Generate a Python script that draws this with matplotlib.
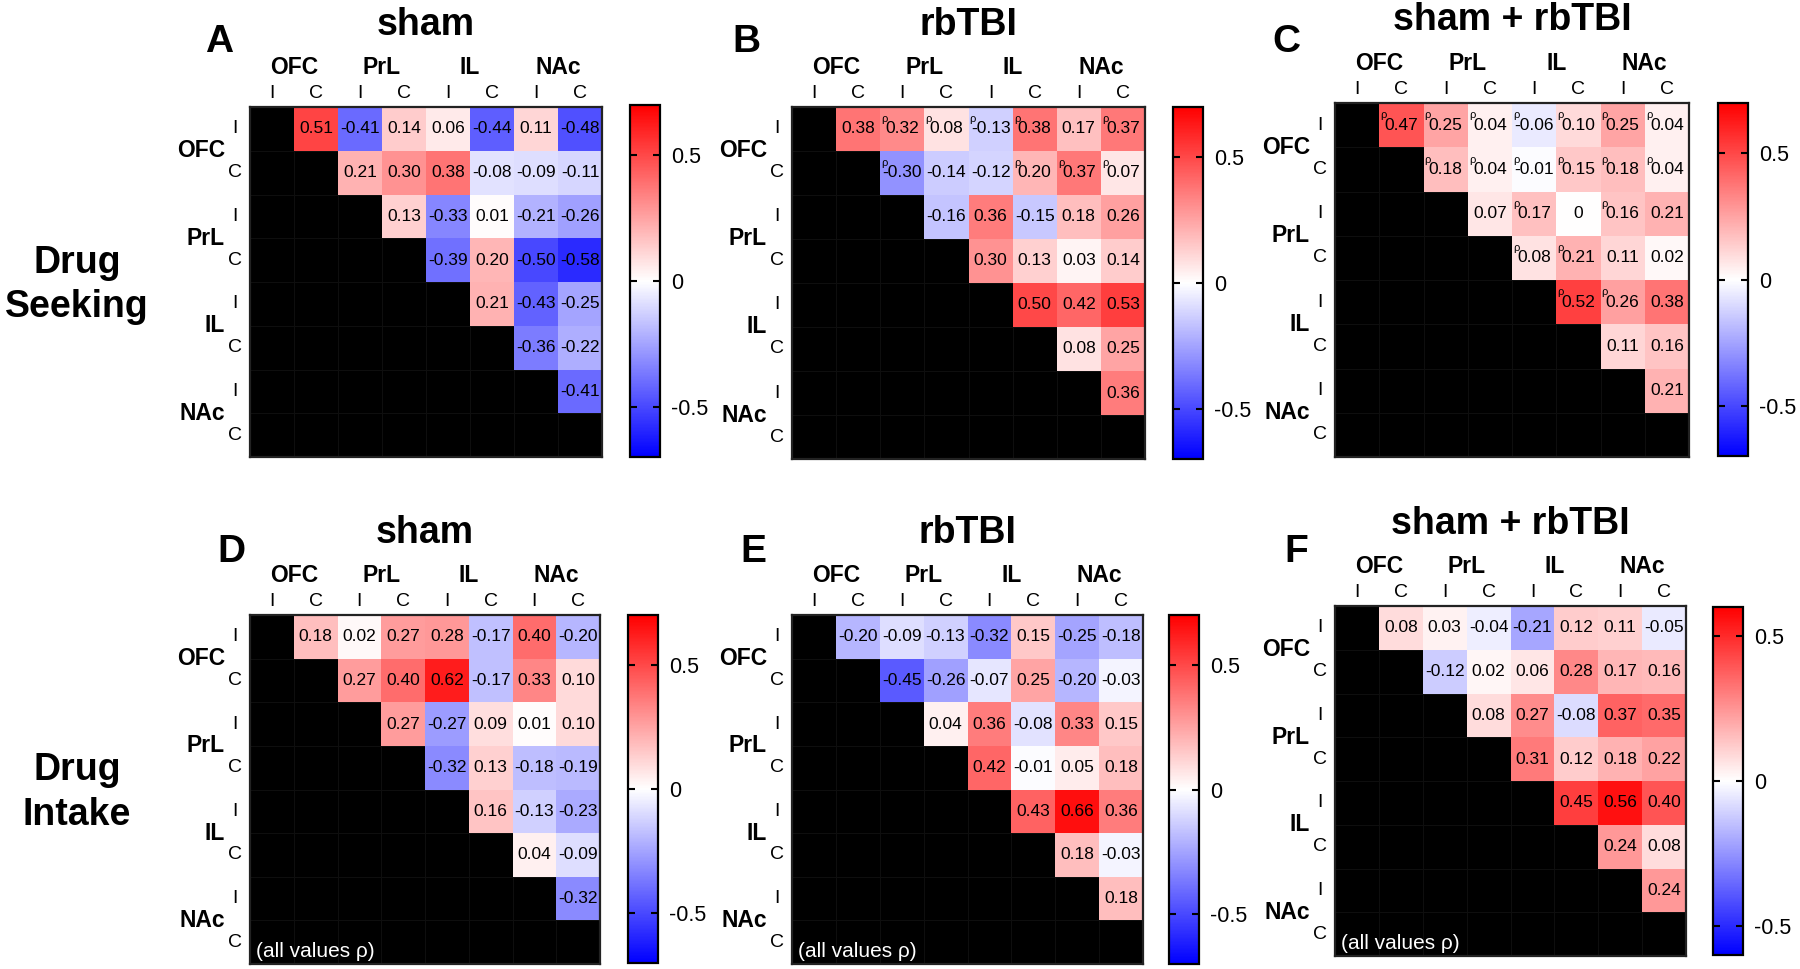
import numpy as np
import matplotlib
matplotlib.use('Agg')
import matplotlib.pyplot as plt
from matplotlib.colors import ListedColormap

plt.rcParams['font.family'] = ['Liberation Sans', 'DejaVu Sans']

regions = ['OFC', 'PrL', 'IL', 'NAc']
sides = ['I', 'C']

# upper triangle only: row i holds the columns i+1 .. 7
sham_seeking = [
    [0.51, -0.41, 0.14, 0.06, -0.44, 0.11, -0.48],
    [0.21, 0.30, 0.38, -0.08, -0.09, -0.11],
    [0.13, -0.33, 0.01, -0.21, -0.26],
    [-0.39, 0.20, -0.50, -0.58],
    [0.21, -0.43, -0.25],
    [-0.36, -0.22],
    [-0.41],
]
tbi_seeking = [
    [0.38, 0.32, 0.08, -0.13, 0.38, 0.17, 0.37],
    [-0.30, -0.14, -0.12, 0.20, 0.37, 0.07],
    [-0.16, 0.36, -0.15, 0.18, 0.26],
    [0.30, 0.13, 0.03, 0.14],
    [0.50, 0.42, 0.53],
    [0.08, 0.25],
    [0.36],
]
all_seeking = [
    [0.47, 0.25, 0.04, -0.06, 0.10, 0.25, 0.04],
    [0.18, 0.04, -0.01, 0.15, 0.18, 0.04],
    [0.07, 0.17, 0.0, 0.16, 0.21],
    [0.08, 0.21, 0.11, 0.02],
    [0.52, 0.26, 0.38],
    [0.11, 0.16],
    [0.21],
]
sham_intake = [
    [0.18, 0.02, 0.27, 0.28, -0.17, 0.40, -0.20],
    [0.27, 0.40, 0.62, -0.17, 0.33, 0.10],
    [0.27, -0.27, 0.09, 0.01, 0.10],
    [-0.32, 0.13, -0.18, -0.19],
    [0.16, -0.13, -0.23],
    [0.04, -0.09],
    [-0.32],
]
tbi_intake = [
    [-0.20, -0.09, -0.13, -0.32, 0.15, -0.25, -0.18],
    [-0.45, -0.26, -0.07, 0.25, -0.20, -0.03],
    [0.04, 0.36, -0.08, 0.33, 0.15],
    [0.42, -0.01, 0.05, 0.18],
    [0.43, 0.66, 0.36],
    [0.18, -0.03],
    [0.18],
]
all_intake = [
    [0.08, 0.03, -0.04, -0.21, 0.12, 0.11, -0.05],
    [-0.12, 0.02, 0.06, 0.28, 0.17, 0.16],
    [0.08, 0.27, -0.08, 0.37, 0.35],
    [0.31, 0.12, 0.18, 0.22],
    [0.45, 0.56, 0.40],
    [0.24, 0.08],
    [0.24],
]

# cells (row, col) reported as spearman rho
rho_tbi_seeking = [(0, 2), (0, 3), (0, 4), (0, 5), (0, 7), (1, 2), (1, 5), (1, 6), (1, 7)]
rho_all_seeking = [(0, 1), (0, 2), (0, 3), (0, 4), (0, 5), (0, 6), (0, 7),
                   (1, 2), (1, 3), (1, 4), (1, 5), (1, 6), (1, 7),
                   (2, 4), (2, 6), (3, 4), (3, 5), (4, 5), (4, 6)]

W, H = 1800, 969


def rect(x0, y0, x1, y1):
    return [x0 / W, 1 - y1 / H, (x1 - x0) / W, (y1 - y0) / H]


def draw_panel(ax, cax, title, rows, rho, vlim, note):
    n = 8
    mat = np.full((n, n), np.nan)
    for i, row in enumerate(rows):
        mat[i, i + 1:] = row
    edges = np.arange(n + 1)
    ax.pcolormesh(edges, edges, np.zeros((n, n)), cmap=ListedColormap(['black']),
                  edgecolors='#0e0e0e', linewidth=0.6)
    mesh = ax.pcolormesh(edges, edges, np.ma.masked_invalid(mat), cmap='bwr',
                         vmin=-vlim, vmax=vlim)
    ax.set_xlim(0, n)
    ax.set_ylim(n, 0)
    ax.set_xticks([])
    ax.set_yticks([])
    for sp in ax.spines.values():
        sp.set_linewidth(1.6)
        sp.set_color('#222222')

    for i in range(n):
        for j in range(i + 1, n):
            v = mat[i, j]
            s = '0' if v == 0 else '{:.2f}'.format(v)
            ax.text(j + 0.5, i + 0.5, s, ha='center', va='center', fontsize=12.5)
            if (i, j) in rho:
                ax.text(j + 0.1, i + 0.28, 'ρ', ha='center', va='center', fontsize=8)

    for k, r in enumerate(regions):
        ax.text(2 * k + 1, -0.75, r, ha='center', va='baseline', fontsize=16.5,
                weight='bold', clip_on=False)
        ax.text(-0.57, 2 * k + 1, r, ha='right', va='center', fontsize=16.5,
                weight='bold', clip_on=False)
    for j in range(n):
        ax.text(j + 0.5, -0.2, sides[j % 2], ha='center', va='baseline',
                fontsize=14, clip_on=False)
        ax.text(-0.34, j + 0.5, sides[j % 2], ha='center', va='center',
                fontsize=14, clip_on=False)

    ax.text(0.5, 1.205, title, transform=ax.transAxes, ha='center', va='baseline',
            fontsize=27, weight='bold')
    if note:
        ax.text(0.14, 7.84, '(all values ρ)', color='white', ha='left',
                va='baseline', fontsize=15)

    cb = plt.colorbar(mesh, cax=cax, ticks=[-0.5, 0, 0.5])
    cb.ax.set_yticklabels(['-0.5', '0', '0.5'])
    cb.ax.tick_params(labelsize=15.5, direction='in', left=True, right=True,
                      length=5, width=1.5, pad=8)
    cb.outline.set_linewidth(1.6)


fig = plt.figure(figsize=(18, 9.69), dpi=100)

panels = [
    ('A', 'sham', sham_seeking, [], 0.7, (250, 107, 602, 457), (630, 105, 660, 457), (205, 52), False),
    ('B', 'rbTBI', tbi_seeking, rho_tbi_seeking, 0.7, (792, 107, 1145, 459), (1173, 107, 1203, 459), (732, 52), False),
    ('C', 'sham + rbTBI', all_seeking, rho_all_seeking, 0.7, (1335, 103, 1689, 457), (1718, 103, 1748, 456), (1272, 52), False),
    ('D', 'sham', sham_intake, [], 0.7, (250, 615, 600, 964), (628, 615, 658, 963), (217, 562), True),
    ('E', 'rbTBI', tbi_intake, [], 0.7, (792, 615, 1143, 964), (1169, 615, 1199, 964), (740, 562), True),
    ('F', 'sham + rbTBI', all_intake, [], 0.6, (1335, 606, 1686, 956), (1713, 607, 1743, 955), (1284, 562), True),
]

for letter, title, rows, rho, vlim, box, cbox, lpos, note in panels:
    ax = fig.add_axes(rect(*box))
    cax = fig.add_axes(rect(*cbox))
    draw_panel(ax, cax, title, rows, rho, vlim, note)
    fig.text(lpos[0] / W, 1 - lpos[1] / H, letter, ha='left', va='baseline',
             fontsize=28, weight='bold')

fig.text(77 / W, 1 - 273 / H, 'Drug', ha='center', va='baseline', fontsize=27, weight='bold')
fig.text(77 / W, 1 - 317 / H, 'Seeking', ha='center', va='baseline', fontsize=27, weight='bold')
fig.text(77 / W, 1 - 780 / H, 'Drug', ha='center', va='baseline', fontsize=27, weight='bold')
fig.text(77 / W, 1 - 825 / H, 'Intake', ha='center', va='baseline', fontsize=27, weight='bold')

fig.savefig('out.png', dpi=100, facecolor='white')
